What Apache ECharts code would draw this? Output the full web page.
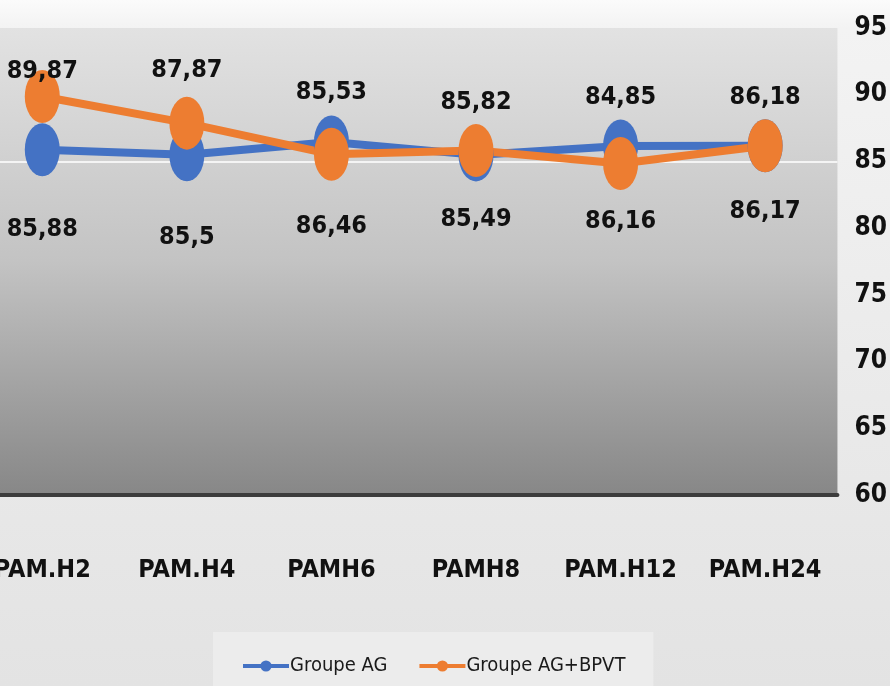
<!DOCTYPE html>
<html>
<head>
<meta charset="utf-8">
<script src="https://cdn.jsdelivr.net/npm/echarts@6/dist/echarts.min.js"></script>
<style>
html,body{margin:0;padding:0;width:890px;height:686px;overflow:hidden;background:#ececec;}
#c{position:absolute;left:-30px;top:0;width:920px;height:686px;}
</style>
</head>
<body>
<div id="c"></div>
<script>
const categories = ['PAM.H2', 'PAM.H4', 'PAMH6', 'PAMH8', 'PAM.H12', 'PAM.H24'];
const seriesNames = ['Groupe AG', 'Groupe AG+BPVT'];
const groupeAG = [85.88, 85.5, 86.46, 85.49, 86.16, 86.17];
const groupeAGBPVT = [89.87, 87.87, 85.53, 85.82, 84.85, 86.18];
const yTicks = { min: 60, max: 95, step: 5 };

// vertical nudges of the value labels (styling only), as placed in the original
const labelNudgeAG = [80, 83, 85, 65, 76, 66];
const labelNudgeBPVT = [-25, -53, -62, -48, -66, -48];

const FONT = '"DejaVu Sans Condensed", "Liberation Sans Narrow", Arial, sans-serif';
const fmt = p => String(p.value).replace('.', ',');

function withLabels(values, nudges) {
  return values.map((v, i) => ({ value: v, label: { offset: [0, nudges[i]] } }));
}

const chart = echarts.init(document.getElementById('c'));
const clear = 'rgba(0,0,0,0)';
const splitColors = [clear, clear, clear, clear, clear, '#f4f4f4', clear, clear];
const labelStyle = { fontFamily: FONT, fontWeight: 'bold', fontSize: 25, color: '#111' };

chart.setOption({
  backgroundColor: {
    type: 'linear', x: 0, y: 0, x2: 0, y2: 1,
    colorStops: [{offset: 0, color: '#fbfbfb'}, {offset: 0.04, color: '#f3f3f3'}, {offset: 1, color: '#e3e3e3'}]
  },
  animation: false,
  grid: {
    left: 0, right: 46, top: 28, bottom: 191,
    show: true, borderWidth: 0,
    backgroundColor: {
      type: 'linear', x: 0, y: 0, x2: 0, y2: 1,
      colorStops: [{offset: 0, color: '#e2e2e2'}, {offset: 0.5, color: '#c3c3c3'}, {offset: 1, color: '#878787'}]
    }
  },
  legend: {
    data: seriesNames,
    left: 243, top: 632,
    padding: [24, 28, 16, 28],
    backgroundColor: '#ececec',
    itemWidth: 46, itemHeight: 14, itemGap: 30,
    lineStyle: { width: 4 },
    textStyle: { fontFamily: FONT, fontSize: 20, color: '#1a1a1a', padding: [0, 0, 0, -4] }
  },
  xAxis: {
    type: 'category',
    data: categories,
    boundaryGap: true,
    axisLine: { show: true, lineStyle: { color: '#3c3c3c', width: 4 } },
    axisTick: { show: false },
    axisLabel: Object.assign({ interval: 0, margin: 63 }, labelStyle, { fontSize: 25 }),
    splitLine: { show: false }
  },
  yAxis: {
    type: 'value',
    position: 'right',
    min: yTicks.min, max: yTicks.max, interval: yTicks.step,
    axisLine: { show: false },
    axisTick: { show: false },
    axisLabel: Object.assign({ margin: 17 }, labelStyle, { fontSize: 26 }),
    splitLine: { show: true, lineStyle: { color: splitColors, width: 2 } }
  },
  series: [
    {
      name: seriesNames[0], type: 'line', data: withLabels(groupeAG, labelNudgeAG),
      symbol: 'circle', symbolSize: [35, 53],
      itemStyle: { color: '#4472C4' },
      lineStyle: { color: '#4472C4', width: 8 },
      label: Object.assign({ show: true, position: 'inside', formatter: fmt }, labelStyle)
    },
    {
      name: seriesNames[1], type: 'line', data: withLabels(groupeAGBPVT, labelNudgeBPVT),
      symbol: 'circle', symbolSize: [35, 53],
      itemStyle: { color: '#ED7D31' },
      lineStyle: { color: '#ED7D31', width: 8 },
      label: Object.assign({ show: true, position: 'inside', formatter: fmt }, labelStyle)
    }
  ]
});
</script>
</body>
</html>
